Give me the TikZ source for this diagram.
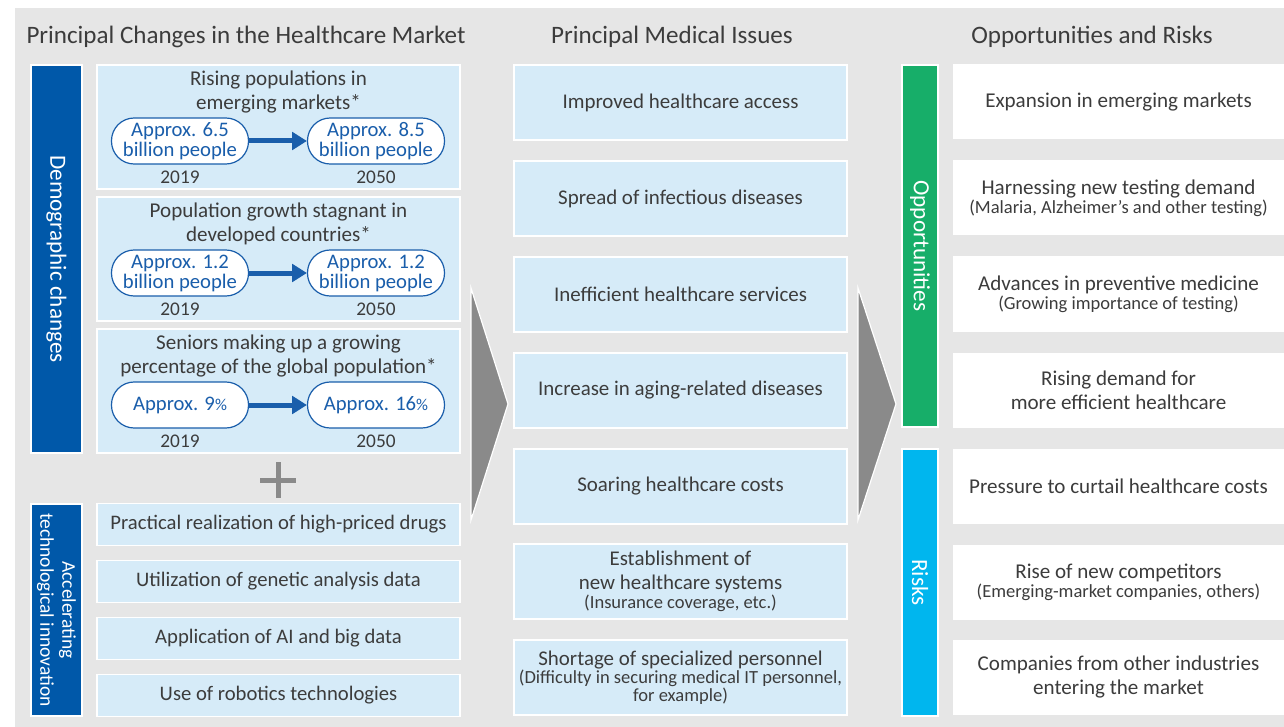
\documentclass[tikz,border=0pt]{standalone}
\usepackage{fontspec}
\setmainfont{Carlito}
\usetikzlibrary{positioning,arrows.meta,calc}
\newlength\unitpx
\setlength\unitpx{0.75pt}
\definecolor{panelGray}{HTML}{E6E6E6}
\definecolor{issueBlue}{HTML}{D6EBF8}
\definecolor{demoBlue}{HTML}{0058A9}
\definecolor{pillBlue}{HTML}{1A5EAB}
\definecolor{oppGreen}{HTML}{17AE69}
\definecolor{riskCyan}{HTML}{00B6EE}
\definecolor{chevronGray}{HTML}{8A8A8A}
\definecolor{textGray}{HTML}{3C3C3C}
\newcommand{\detail}[1]{{\fontsize{13.9}{15}\selectfont #1}}
\tikzset{
	heading/.style={
		text=textGray,
		font=\fontsize{18.8}{22}\selectfont,
	},
	popbox/.style={
		draw=white,
		line width=0.8pt,
		outer sep=0pt,
		fill=issueBlue,
		minimum width=363\unitpx,
		minimum height=124\unitpx,
	},
	poptitle/.style={
		align=center,
		text=textGray,
		inner sep=0pt,
		font=\fontsize{15.8}{18}\selectfont,
	},
	pill/.style={
		draw=pillBlue,
		line width=0.9pt,
		fill=white,
		rounded corners=17pt,
		minimum width=137\unitpx,
		minimum height=46\unitpx,
		inner sep=0pt,
		align=center,
		text=pillBlue,
		font=\fontsize{15.5}{15}\selectfont,
	},
	year/.style={
		text=textGray,
		inner sep=0pt,
		font=\fontsize{14.5}{16}\selectfont,
	},
	growth/.style={
		-{Triangle[length=11pt,width=13pt]},
		line width=3.75pt,
		draw=pillBlue,
	},
	techbox/.style={
		draw=white,
		line width=0.8pt,
		outer sep=0pt,
		fill=issueBlue,
		minimum width=363\unitpx,
		minimum height=42\unitpx,
		text=textGray,
		font=\fontsize{15.5}{18}\selectfont,
	},
	issue/.style={
		draw=white,
		line width=0.8pt,
		outer sep=0pt,
		fill=issueBlue,
		minimum width=333\unitpx,
		minimum height=75\unitpx,
		align=center,
		text=textGray,
		font=\fontsize{15.7}{18}\selectfont,
	},
	outcome/.style={
		fill=white,
		outer sep=0pt,
		minimum width=331\unitpx,
		minimum height=75\unitpx,
		align=center,
		text=textGray,
		font=\fontsize{15.8}{18}\selectfont,
	},
	sidebar/.style={
		rotate=-90,
		draw=white,
		line width=0.8pt,
		inner sep=0pt,
		align=center,
		text=white,
		font=\fontsize{17.4}{20}\selectfont,
	},
	chevron/.style={
		fill=chevronGray,
		draw=white,
		line width=0.9pt,
	},
	plus/.style={
		draw=chevronGray,
		line width=3.75pt,
	}
}

\begin{document}
\begin{tikzpicture}[x=\unitpx, y=-\unitpx]
	\useasboundingbox (0,0) rectangle (1284,727);
	\fill[white] (0,0) rectangle (1284,727);
	\fill[panelGray] (15,8) rectangle (1284,727);
	
	% --- Headings ---
	\node[heading] (headL) at (246,37) {Principal Changes in the Healthcare Market};
	\node[heading] (headM) at (672,37) {Principal Medical Issues};
	\node[heading] (headR) at (1092,37) {Opportunities and Risks};
	
	% --- Left column: demographic changes ---
	\node[sidebar, fill=demoBlue, minimum width=388\unitpx, minimum height=51\unitpx] (demo) at (56.5,259) {Demographic changes};
	\node[popbox] (pop1) at (278.5,127) {};
	\node[popbox] (pop2) [below=8\unitpx of pop1] {};
	\node[popbox] (pop3) [below=8\unitpx of pop2] {};
	
	\node[poptitle] (pop1t) at ($(pop1.north)+(0,27)$) {Rising populations in\\emerging markets*};
	\node[pill] (pop1a) at ($(pop1.north)+(-98.5,76)$) {Approx. 6.5\\billion people};
	\node[pill] (pop1b) at ($(pop1.north)+(97.5,76)$) {Approx. 8.5\\billion people};
	\node[year] (pop1ya) at ($(pop1.north)+(-98.5,112)$) {2019};
	\node[year] (pop1yb) at ($(pop1.north)+(97.5,112)$) {2050};
	\draw[growth] (pop1a) -- (pop1b);
	
	\node[poptitle] (pop2t) at ($(pop2.north)+(0,27)$) {Population growth stagnant in\\developed countries*};
	\node[pill] (pop2a) at ($(pop2.north)+(-98.5,76)$) {Approx. 1.2\\billion people};
	\node[pill] (pop2b) at ($(pop2.north)+(97.5,76)$) {Approx. 1.2\\billion people};
	\node[year] (pop2ya) at ($(pop2.north)+(-98.5,112)$) {2019};
	\node[year] (pop2yb) at ($(pop2.north)+(97.5,112)$) {2050};
	\draw[growth] (pop2a) -- (pop2b);
	
	\node[poptitle] (pop3t) at ($(pop3.north)+(0,27)$) {Seniors making up a growing\\percentage of the global population*};
	\node[pill] (pop3a) at ($(pop3.north)+(-98.5,76)$) {Approx. 9{\fontsize{12.5}{12}\selectfont\%}};
	\node[pill] (pop3b) at ($(pop3.north)+(97.5,76)$) {Approx. 16{\fontsize{12.5}{12}\selectfont\%}};
	\node[year] (pop3ya) at ($(pop3.north)+(-98.5,112)$) {2019};
	\node[year] (pop3yb) at ($(pop3.north)+(97.5,112)$) {2050};
	\draw[growth] (pop3a) -- (pop3b);
	
	\draw[plus] (260,480) -- (296,480) (278,462) -- (278,498);
	
	% --- Left column: technology ---
	\node[sidebar, fill=demoBlue, minimum width=212\unitpx, minimum height=51\unitpx, font=\fontsize{14.6}{16.5}\selectfont] (tech) at (56.5,610) {Accelerating\\technological innovation};
	\node[techbox] (tech1) at (278.5,524.5) {Practical realization of high-priced drugs};
	\node[techbox] (tech2) [below=15\unitpx of tech1] {Utilization of genetic analysis data};
	\node[techbox] (tech3) [below=15\unitpx of tech2] {Application of AI and big data};
	\node[techbox] (tech4) [below=15\unitpx of tech3] {Use of robotics technologies};
	
	% --- Middle column ---
	\node[issue] (iss1) at (680.5,102.5) {Improved healthcare access};
	\node[issue] (iss2) [below=21\unitpx of iss1] {Spread of infectious diseases};
	\node[issue] (iss3) [below=21\unitpx of iss2] {Inefficient healthcare services};
	\node[issue] (iss4) [below=21\unitpx of iss3] {Increase in aging-related diseases};
	\node[issue] (iss5) [below=21\unitpx of iss4] {Soaring healthcare costs};
	\node[issue] (iss6) [below=20\unitpx of iss5] {Establishment of\\new healthcare systems\\[-4pt]\detail{(Insurance coverage, etc.)}};
	\node[issue] (iss7) [below=21\unitpx of iss6] {Shortage of specialized personnel\\[-4pt]\detail{(Difficulty in securing medical IT personnel,}\\[-5pt]\detail{for example)}};
	
	% --- Chevrons ---
	\filldraw[chevron] (471,288) -- (508,404) -- (471,520) -- cycle;
	\filldraw[chevron] (858,288) -- (896,404) -- (858,520) -- cycle;
	
	% --- Right column ---
	\node[sidebar, fill=oppGreen, minimum width=362\unitpx, minimum height=36\unitpx] (opp) at (920,246) {Opportunities};
	\node[sidebar, fill=riskCyan, minimum width=267\unitpx, minimum height=36\unitpx] (risk) at (920,582.5) {Risks};
	
	\node[outcome] (out1) at (1118.5,102) {Expansion in emerging markets};
	\node[outcome] (out2) [below=21\unitpx of out1] {Harnessing new testing demand\\[-4pt]\detail{(Malaria, Alzheimer’s and other testing)}};
	\node[outcome] (out3) [below=21\unitpx of out2] {Advances in preventive medicine\\[-4pt]\detail{(Growing importance of testing)}};
	\node[outcome] (out4) [below=21\unitpx of out3] {Rising demand for\\more efficient healthcare};
	\node[outcome] (out5) [below=21\unitpx of out4] {Pressure to curtail healthcare costs};
	\node[outcome] (out6) [below=21\unitpx of out5] {Rise of new competitors\\[-4pt]\detail{(Emerging-market companies, others)}};
	\node[outcome] (out7) [below=20\unitpx of out6] {Companies from other industries\\entering the market};
\end{tikzpicture}
\end{document}
